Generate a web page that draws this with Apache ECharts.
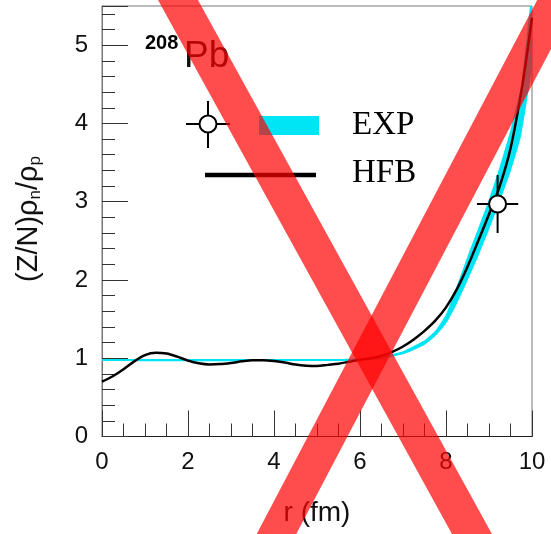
<!DOCTYPE html>
<html>
<head>
<meta charset="utf-8">
<script src="https://cdn.jsdelivr.net/npm/echarts@6/dist/echarts.min.js"></script>
<style>html,body{margin:0;padding:0;background:#fff}#c{width:551px;height:534px}</style>
</head>
<body>
<div id="c"></div>
<script>
// ---- data ----
const hfbR = [0, 0.25, 0.5, 0.75, 1, 1.25, 1.5, 1.75, 2, 2.25, 2.5, 2.75, 3, 3.25, 3.5, 3.75, 4, 4.25, 4.5, 4.75, 5, 5.25, 5.5, 5.75, 6, 6.25, 6.5, 6.75, 7, 7.25, 7.5, 7.75, 8, 8.25, 8.5, 8.75, 9, 9.25, 9.5, 9.75, 9.9, 10];
const hfbY = [0.70, 0.77, 0.86, 0.96, 1.04, 1.07, 1.06, 1.02, 0.97, 0.935, 0.92, 0.925, 0.94, 0.96, 0.975, 0.975, 0.965, 0.945, 0.92, 0.905, 0.90, 0.915, 0.93, 0.955, 0.98, 1.0, 1.03, 1.08, 1.15, 1.24, 1.35, 1.48, 1.65, 1.88, 2.17, 2.5, 2.84, 3.2, 3.68, 4.4, 4.95, 5.35];
const expR  = [0, 5.5, 6.0, 6.5, 7.0, 7.5, 7.75, 8.0, 8.25, 8.5, 8.75, 9.0, 9.25, 9.5, 9.75, 10.0];
const expLo = [0.963, 0.963, 0.97, 0.99, 1.05, 1.17, 1.28, 1.44, 1.69, 1.99, 2.3, 2.64, 3.0, 3.38, 3.85, 4.75];
const expHi = [0.99, 0.99, 1.0, 1.025, 1.09, 1.23, 1.35, 1.56, 1.92, 2.3, 2.66, 3.03, 3.45, 3.92, 4.5, 5.7];
const pointR = [9.2];
const pointY = [2.97];
const pointDR = [0.48];
const pointDY = [0.37];
const xTicks = [0, 2, 4, 6, 8, 10];
const yTicks = [0, 1, 2, 3, 4, 5];

const FONT = 'Liberation Sans';
const chart = echarts.init(document.getElementById('c'), null, {renderer: 'canvas'});

const gridCfg = {left: 102, top: 6, width: 430, height: 430.5, show: true, borderColor: '#777', borderWidth: 1, backgroundColor: 'transparent'};

const option = {
  animation: false,
  backgroundColor: '#fff',
  grid: [gridCfg],
  xAxis: [
    {type: 'value', min: 0, max: 10, interval: 2, gridIndex: 0,
     axisLine: {show: true, lineStyle: {color: '#222', width: 1}},
     axisTick: {show: true, inside: true, length: 26, lineStyle: {color: '#333'}},
     splitLine: {show: false},
     axisLabel: {show: true, margin: 14, fontFamily: FONT, fontSize: 24, color: '#111',
       formatter: v => xTicks.indexOf(v) >= 0 ? String(v) : ''}},
    {type: 'value', min: 0, max: 10, interval: 0.5, gridIndex: 0, position: 'bottom',
     axisLine: {show: false},
     axisTick: {show: true, inside: true, length: 13, lineStyle: {color: '#333'}},
     splitLine: {show: false}, axisLabel: {show: false}}
  ],
  yAxis: [
    {type: 'value', min: 0, max: 5.5, interval: 1, gridIndex: 0,
     axisLine: {show: true, lineStyle: {color: '#777', width: 1}},
     axisTick: {show: true, inside: true, length: 26, lineStyle: {color: '#333'}},
     splitLine: {show: false},
     axisLabel: {show: true, margin: 14, fontFamily: FONT, fontSize: 24, color: '#111',
       formatter: v => yTicks.indexOf(v) >= 0 ? String(v) : ''}},
    {type: 'value', min: 0, max: 5.5, interval: 0.2, gridIndex: 0, position: 'left',
     axisLine: {show: false},
     axisTick: {show: true, inside: true, length: 13, lineStyle: {color: '#333'}},
     splitLine: {show: false}, axisLabel: {show: false}}
  ],
  series: [
    {
      type: 'custom', name: 'EXP', xAxisIndex: 0, yAxisIndex: 0, clip: true, z: 2,
      data: [[expR[0], expLo[0]]],
      renderItem: function (params, api) {
        const pts = [];
        for (let i = 0; i < expR.length; i++) pts.push(api.coord([expR[i], expHi[i]]));
        for (let i = expR.length - 1; i >= 0; i--) pts.push(api.coord([expR[i], expLo[i]]));
        return {type: 'polygon', shape: {points: pts, smooth: 0.15}, style: {fill: '#00e5f5', stroke: null}};
      }
    },
    {
      type: 'line', name: 'HFB', xAxisIndex: 0, yAxisIndex: 0, z: 3,
      data: hfbR.map((r, i) => [r, hfbY[i]]),
      smooth: 0.3, showSymbol: false, symbol: 'none',
      lineStyle: {color: '#000', width: 2.5}
    },
    {
      type: 'custom', name: 'EXPpt', xAxisIndex: 0, yAxisIndex: 0, clip: false, z: 4,
      data: pointR.map((r, i) => [r, pointY[i], pointDR[i], pointDY[i]]),
      renderItem: function (params, api) {
        const x = api.value(0), y = api.value(1), dx = api.value(2), dy = api.value(3);
        const c = api.coord([x, y]);
        const l = api.coord([x - dx, y]), r = api.coord([x + dx, y]);
        const t = api.coord([x, y + dy]), b = api.coord([x, y - dy]);
        const st = {stroke: '#000', lineWidth: 2};
        return {type: 'group', children: [
          {type: 'line', shape: {x1: l[0], y1: c[1], x2: r[0], y2: c[1]}, style: st},
          {type: 'line', shape: {x1: c[0], y1: t[1], x2: c[0], y2: b[1]}, style: st},
          {type: 'circle', shape: {cx: c[0], cy: c[1], r: 8.5}, style: {fill: '#fff', stroke: '#000', lineWidth: 2}}
        ]};
      }
    }
  ],
  graphic: [
    // 208Pb label
    {type: 'text', left: 145, top: 33, z: 20, style: {text: '208', fontFamily: FONT, fontSize: 20, fontWeight: 'bold', fill: '#000'}},
    {type: 'text', left: 184, top: 38, z: 20, style: {text: 'Pb', fontFamily: FONT, fontSize: 37, fill: '#111'}},
    // legend
    {type: 'line', z: 20, shape: {x1: 186, y1: 124, x2: 230, y2: 124}, style: {stroke: '#000', lineWidth: 2}},
    {type: 'line', z: 20, shape: {x1: 208, y1: 101, x2: 208, y2: 148}, style: {stroke: '#000', lineWidth: 2}},
    {type: 'circle', z: 21, shape: {cx: 208, cy: 124, r: 8.5}, style: {fill: '#fff', stroke: '#000', lineWidth: 2}},
    {type: 'rect', z: 20, shape: {x: 259, y: 116, width: 60, height: 19}, style: {fill: '#00e5f5'}},
    {type: 'text', z: 20, x: 352, y: 125, style: {text: 'EXP', fontFamily: 'Liberation Serif', fontSize: 33, fill: '#000', textAlign: 'left', textVerticalAlign: 'middle'}},
    {type: 'line', z: 20, shape: {x1: 205, y1: 175, x2: 316, y2: 175}, style: {stroke: '#000', lineWidth: 4.5}},
    {type: 'text', z: 20, x: 352, y: 173, style: {text: 'HFB', fontFamily: 'Liberation Serif', fontSize: 33, fill: '#000', textAlign: 'left', textVerticalAlign: 'middle'}},
    // axis titles
    {type: 'text', z: 20, x: 317, y: 513, style: {text: 'r (fm)', fontFamily: FONT, fontSize: 28, fill: '#111', textAlign: 'center', textVerticalAlign: 'middle'}},
    {type: 'text', z: 20, x: 29, y: 219, rotation: Math.PI / 2,
     style: {text: '(Z/N)ρ{s|n}/ρ{s|p}', fontFamily: FONT, fontSize: 29, fill: '#111', textAlign: 'center', textVerticalAlign: 'middle',
       rich: {s: {fontFamily: FONT, fontSize: 17, fill: '#111', padding: [12, 0, 0, 0]}}}},
    // red cross
    {type: 'line', z: 100, shape: {x1: 167, y1: -20, x2: 483, y2: 554}, style: {stroke: 'rgba(255,0,0,0.7)', lineWidth: 35}},
    {type: 'line', z: 100, shape: {x1: 567.5, y1: -20, x2: 266.5, y2: 553}, style: {stroke: 'rgba(255,0,0,0.7)', lineWidth: 35}}
  ]
};
chart.setOption(option);
</script>
</body>
</html>
